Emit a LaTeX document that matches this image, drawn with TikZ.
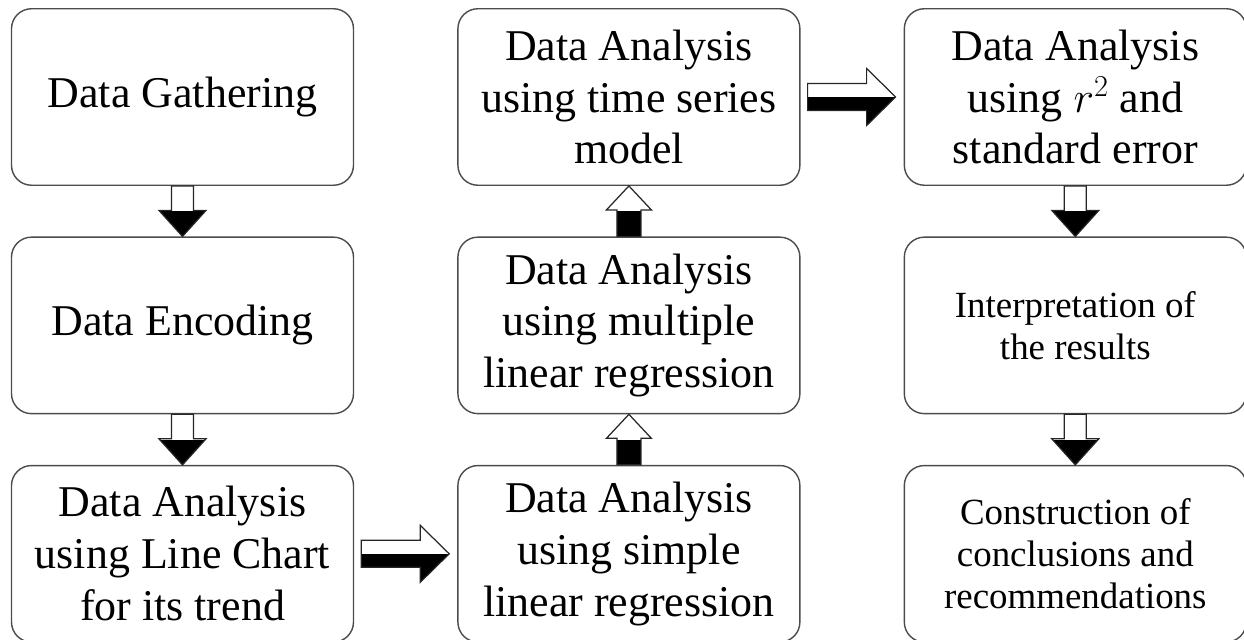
\documentclass[tikz,border=0pt]{standalone}
\usepackage{fontspec}
\setmainfont{Liberation Serif}
\usetikzlibrary{positioning,calc}

\tikzset{
  procbox/.style={draw=black!70, line width=0.8pt, rounded corners=0.4cm,
    minimum width=6.84cm, minimum height=3.53cm, align=center, fill=white,
    font=\fontsize{25}{29.5}\selectfont},
  smalltext/.style={font=\fontsize{21}{24}\selectfont},
  arrowbody/.style={draw=black!85, line width=0.7pt, fill=white,
    path picture={\fill[black] (path picture bounding box.west)
      rectangle (path picture bounding box.south east);}}
}

% block arrow: from, to, shaft half width, head half width, head length
\newcommand{\blockarrow}[5]{%
  \coordinate (ba-s) at (#1);
  \coordinate (ba-t) at (#2);
  \coordinate (ba-h) at ($(ba-t)!#5!(ba-s)$);
  \path[arrowbody] ($(ba-s)!#3!90:(ba-t)$) -- ($(ba-h)!#3!-90:(ba-s)$)
    -- ($(ba-h)!#4!-90:(ba-s)$) -- (ba-t) -- ($(ba-h)!#4!90:(ba-s)$)
    -- ($(ba-h)!#3!90:(ba-s)$) -- ($(ba-s)!#3!-90:(ba-t)$) -- cycle;
}

\begin{document}
\begin{tikzpicture}[node distance=1.01cm and 2.06cm]
  \useasboundingbox (-3.65,1.94) rectangle (21.23,-10.86);

  % first column
  \node[procbox] (gather) at (0,0) {Data Gathering};
  \node[procbox, below=of gather] (encode) {Data Encoding};
  \node[procbox, below=of encode] (linechart) {Data Analysis\\using Line Chart\\for its trend};

  % second column
  \node[procbox, right=of linechart] (simple) {Data Analysis\\using simple\\linear regression};
  \node[procbox, above=of simple] (multiple) {Data Analysis\\using multiple\\linear regression};
  \node[procbox, above=of multiple] (timeseries) {Data Analysis\\using time series\\model};

  % third column
  \node[procbox, right=of timeseries] (rsquared) {Data Analysis\\using $r^{2}$ and\\standard error};
  \node[procbox, smalltext, below=of rsquared] (interpret) {Interpretation of\\the results};
  \node[procbox, smalltext, below=of interpret] (conclude) {Construction of\\conclusions and\\recommendations};

  % arrows
  \blockarrow{gather.south}{encode.north}{0.22cm}{0.47cm}{0.52cm}
  \blockarrow{encode.south}{linechart.north}{0.22cm}{0.47cm}{0.52cm}
  \blockarrow{$(linechart.east)+(0.14,0)$}{$(simple.west)-(0.16,0)$}{0.27cm}{0.57cm}{0.58cm}
  \blockarrow{simple.north}{multiple.south}{0.24cm}{0.45cm}{0.48cm}
  \blockarrow{multiple.north}{timeseries.south}{0.24cm}{0.45cm}{0.48cm}
  \blockarrow{$(timeseries.east)+(0.14,0)$}{$(rsquared.west)-(0.16,0)$}{0.27cm}{0.57cm}{0.58cm}
  \blockarrow{rsquared.south}{interpret.north}{0.22cm}{0.47cm}{0.52cm}
  \blockarrow{interpret.south}{conclude.north}{0.22cm}{0.47cm}{0.52cm}
\end{tikzpicture}
\end{document}
